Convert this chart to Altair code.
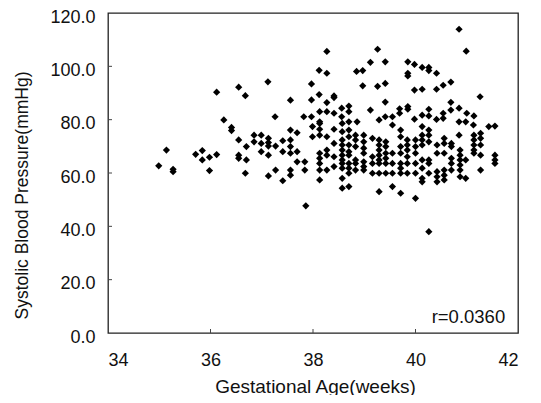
import altair as alt
import pandas as pd

# Gestational age (weeks) and systolic blood pressure (mmHg)
ages = [
    34.99, 35.14, 35.27, 35.27, 35.71, 35.84, 35.84, 35.98, 35.98, 36.12, 36.12,
    36.26, 36.41, 36.41, 36.55, 36.55, 36.55, 36.55, 36.68, 36.70, 36.70, 36.68,
    36.85, 36.85, 36.99, 36.99, 36.99, 37.12, 37.13, 37.13, 37.13, 37.13, 37.13,
    37.26, 37.27, 37.27, 37.41, 37.41, 37.41,
    37.56, 37.56, 37.56, 37.56, 37.56, 37.56, 37.56, 37.69, 37.69, 37.69,
    37.82, 37.84, 37.84, 37.86, 37.97, 37.97, 37.97, 37.99, 37.99,
    38.12, 38.12, 38.13, 38.13, 38.13, 38.13, 38.13, 38.13, 38.13, 38.13, 38.13, 38.13,
    38.27, 38.27, 38.27, 38.27, 38.27, 38.27, 38.27, 38.27,
    38.41, 38.41, 38.41, 38.41, 38.41, 38.41, 38.41, 38.56, 38.56,
    38.57, 38.57, 38.57, 38.57, 38.57, 38.57, 38.57, 38.57, 38.57, 38.57, 38.57,
    38.70, 38.70, 38.70, 38.70, 38.70, 38.70, 38.70, 38.70, 38.70, 38.70, 38.70, 38.70,
    38.83, 38.83, 38.83, 38.83, 38.83, 38.83, 38.85, 38.86, 38.97, 38.97,
    38.99, 38.99, 38.99, 38.99, 38.99, 38.99, 38.99,
    39.12, 39.12, 39.16, 39.16, 39.16, 39.16, 39.26, 39.26,
    39.29, 39.29, 39.29, 39.29, 39.29, 39.29, 39.29, 39.29, 39.29,
    39.41, 39.41, 39.41, 39.41, 39.42, 39.42, 39.42, 39.42, 39.42, 39.42,
    39.55, 39.55, 39.55, 39.55, 39.55, 39.55, 39.69, 39.69,
    39.71, 39.71, 39.71, 39.71, 39.71, 39.71, 39.71, 39.71,
    39.84, 39.84, 39.84, 39.84, 39.84, 39.84, 39.85, 39.85, 39.85, 39.85, 39.85,
    39.98, 39.98, 39.98, 40.00, 40.00, 40.00, 40.00, 40.00, 40.00,
    40.13, 40.13, 40.13, 40.13, 40.13, 40.13, 40.13, 40.13, 40.13, 40.13, 40.13,
    40.26, 40.26, 40.26, 40.26, 40.26, 40.26, 40.26, 40.26, 40.26, 40.26, 40.26,
    40.41, 40.41, 40.41, 40.42, 40.42, 40.42, 40.42, 40.42,
    40.54, 40.54, 40.54, 40.56, 40.56, 40.56, 40.56, 40.56, 40.56,
    40.69, 40.69, 40.69, 40.70, 40.70, 40.70, 40.70, 40.70,
    40.85, 40.85, 40.85, 40.85, 40.87, 40.87, 40.87, 40.87, 40.87, 40.87,
    40.98, 40.98, 40.98, 40.99, 41.00, 41.13,
    41.14, 41.14, 41.14, 41.14, 41.14, 41.14, 41.26,
    41.27, 41.27, 41.27, 41.27, 41.27, 41.43, 41.55, 41.55, 41.55, 41.55,
]
sbp = [
    62.7, 68.6, 61.4, 60.5, 67.0, 68.4, 64.9, 65.9, 60.9, 66.9, 90.3,
    79.9, 77.1, 75.9, 92.2, 72.4, 66.7, 65.5, 89.0, 69.9, 64.9, 59.9,
    74.2, 71.7, 74.2, 71.1, 68.0, 94.2, 73.0, 71.4, 70.1, 66.7, 58.9,
    81.1, 70.1, 61.1, 72.1, 68.0, 57.1,
    87.3, 76.1, 72.4, 69.9, 67.4, 61.1, 59.2, 75.1, 68.0, 64.2,
    81.1, 64.2, 61.1, 47.7, 93.4, 87.4, 81.1, 77.4, 73.6,
    98.5, 89.4, 83.0, 79.2, 78.6, 76.4, 74.2, 67.4, 65.5, 63.6, 61.1, 57.4,
    105.6, 97.4, 86.4, 83.0, 73.6, 68.6, 66.7, 61.1,
    88.9, 88.3, 82.4, 76.4, 71.1, 66.1, 62.4, 84.3, 81.1,
    78.6, 75.5, 72.4, 70.5, 68.6, 66.7, 64.9, 63.6, 61.8, 58.0, 54.3,
    85.1, 83.0, 79.2, 76.1, 73.6, 70.5, 68.0, 66.7, 63.6, 61.8, 59.9, 54.9,
    74.2, 72.4, 69.9, 64.9, 63.6, 61.1, 98.1, 79.2, 98.4, 92.7,
    74.2, 71.7, 69.3, 67.4, 64.2, 62.4, 61.1,
    101.5, 83.6, 73.0, 66.1, 63.6, 59.9, 106.4, 92.5,
    79.9, 72.4, 70.5, 68.6, 66.7, 64.9, 63.6, 59.9, 53.0,
    101.7, 93.6, 86.6, 81.1, 71.7, 69.9, 67.4, 65.5, 63.6, 59.9,
    81.1, 78.0, 67.4, 63.6, 59.9, 54.9, 84.1, 82.4,
    76.1, 73.6, 69.9, 67.4, 63.6, 61.8, 59.9, 52.4,
    72.4, 70.5, 68.6, 66.1, 63.6, 59.9, 101.7, 97.4, 96.4, 84.9, 83.9,
    100.7, 91.1, 80.2, 72.4, 69.9, 67.4, 63.6, 59.9, 50.5,
    99.6, 91.4, 81.7, 77.4, 74.2, 72.4, 70.5, 64.9, 61.8, 58.0, 56.7,
    99.6, 98.4, 83.9, 81.4, 76.1, 74.2, 71.7, 64.9, 63.6, 59.9, 38.0,
    97.4, 91.4, 80.1, 70.5, 67.4, 60.5, 58.6, 56.7,
    92.9, 82.4, 80.5, 73.0, 71.1, 67.4, 61.1, 59.2, 57.4,
    94.1, 86.5, 83.6, 71.1, 69.9, 65.5, 63.6, 61.1,
    113.9, 84.3, 79.2, 74.2, 68.6, 66.7, 64.9, 63.0, 61.1, 58.6,
    79.2, 64.9, 58.0, 105.7, 82.4, 78.0,
    81.4, 74.2, 72.4, 70.5, 68.6, 67.4, 88.6,
    74.9, 73.0, 70.5, 66.7, 61.1, 77.4, 77.6, 66.7, 64.9, 63.6,
]

x_ticks = [34, 36, 38, 40, 42]
y_ticks = [0, 20, 40, 60, 80, 100, 120]
annotation = ["r=0.0360"]

W, H = 410, 320
FONT = "Liberation Sans"

df = pd.DataFrame({"age": ages, "sbp": sbp})
xscale = alt.Scale(domain=[34, 42], nice=False, zero=False)
yscale = alt.Scale(domain=[0, 120], nice=False)

points = alt.Chart(df).mark_point(
    shape="diamond", filled=True, size=52, color="#000000", opacity=1
).encode(
    x=alt.X(
        "age:Q", scale=xscale,
        axis=alt.Axis(
            values=x_ticks, format="d", ticks=False, tickSize=0, grid=False, domain=False,
            labelFont=FONT, labelFontSize=18, labelColor="#111", labelPadding=18,
            title="Gestational Age(weeks)", titleFont=FONT, titleFontSize=19,
            titleFontWeight="normal", titleColor="#111",
            titleX=207, titleY=53, titleBaseline="middle", titleAlign="center",
        ),
    ),
    y=alt.Y(
        "sbp:Q", scale=yscale,
        axis=alt.Axis(
            values=y_ticks, format=".1f", ticks=False, tickSize=0, grid=False, domain=False,
            labelFont=FONT, labelFontSize=18, labelColor="#111", labelPadding=13,
            labelOffset=4,
            title="Systolic Blood Pressure(mmHg)", titleFont=FONT, titleFontSize=17.5,
            titleFontWeight="normal", titleColor="#111",
            titleX=-86, titleY=182, titleBaseline="middle", titleAlign="center",
            titleAngle=270,
        ),
    ),
)

xt = alt.Chart(pd.DataFrame({"t": x_ticks[1:-1]})).mark_rule(
    color="#444", strokeWidth=1
).encode(x=alt.X("t:Q", scale=xscale), y=alt.value(H), y2=alt.value(H - 4))

yt = alt.Chart(pd.DataFrame({"t": y_ticks[1:-1]})).mark_rule(
    color="#444", strokeWidth=1
).encode(y=alt.Y("t:Q", scale=yscale), x=alt.value(0), x2=alt.value(4))

txt = alt.Chart(pd.DataFrame({"label": annotation, "x": [41.75], "y": [6.0]})).mark_text(
    align="right", baseline="middle", font=FONT, fontSize=18.5, color="#111"
).encode(
    x=alt.X("x:Q", scale=xscale), y=alt.Y("y:Q", scale=yscale), text="label:N"
)

chart = alt.layer(points, xt, yt, txt).properties(
    width=W, height=H,
    autosize=alt.AutoSizeParams(type="none"),
    padding={"left": 100, "top": 5, "right": 15, "bottom": 62},
    background="white",
).configure_view(stroke="#222", strokeWidth=1.3)

chart.save("out.html", embed_options={"renderer": "svg", "actions": False})
